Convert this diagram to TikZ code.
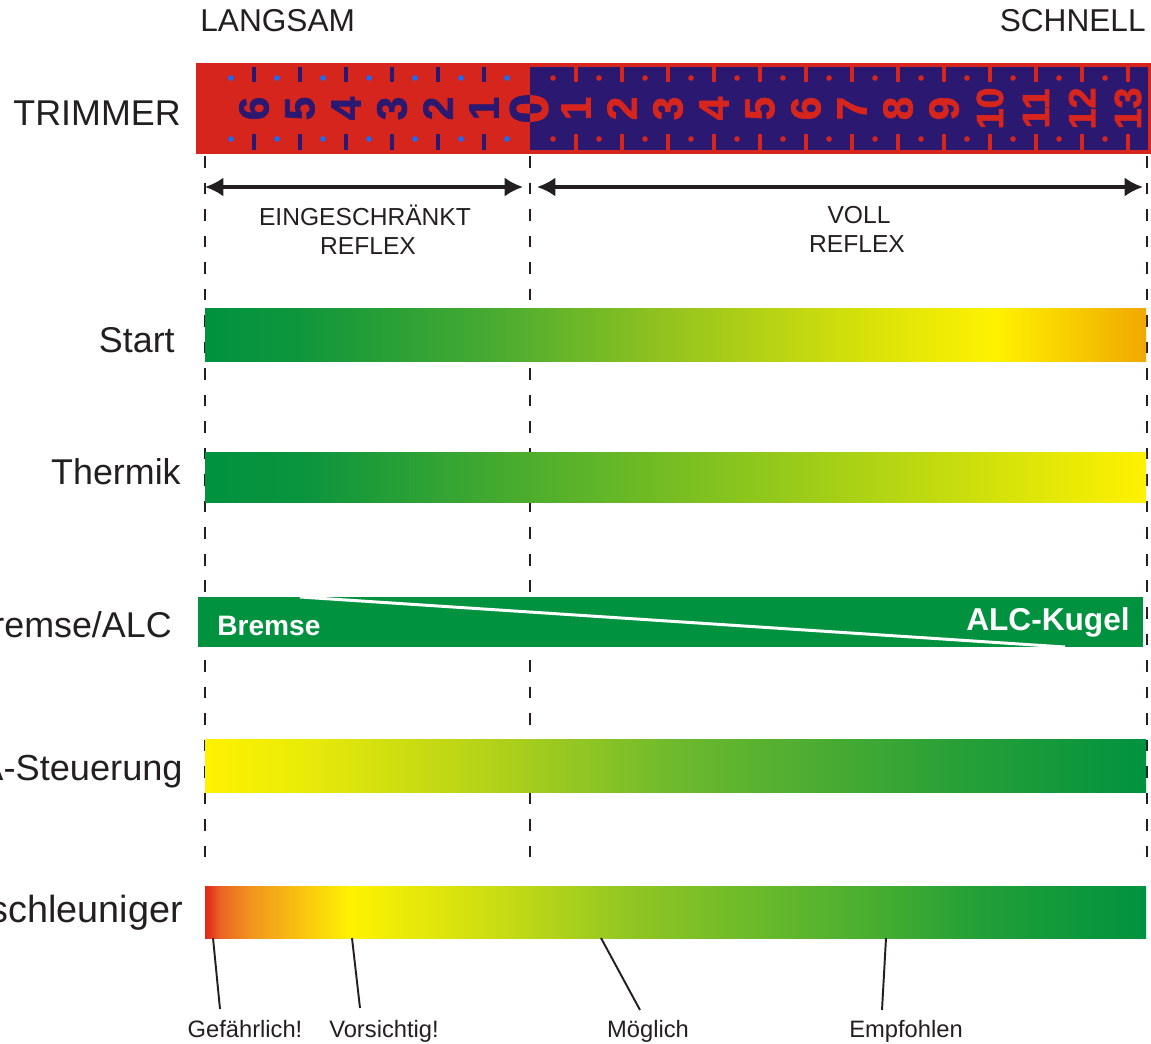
\documentclass[tikz,border=0pt]{standalone}
\usepackage{fontspec}
\setmainfont{Liberation Sans}
\newfontfamily\tapefont{Liberation Sans Bold}[FakeBold=1.6]
\usepackage{xcolor}
\usepackage{tikz}
\usetikzlibrary{arrows.meta}

\definecolor{trimred}{RGB}{214,37,29}
\definecolor{trimblue}{RGB}{43,24,112}
\definecolor{dotblue}{RGB}{20,110,255}
\definecolor{bargreen}{RGB}{0,146,63}
\definecolor{inkgray}{RGB}{35,31,32}

\pgfdeclarehorizontalshading{startshade}{100bp}{rgb(0bp)=(0,0.573,0.247); rgb(25bp)=(0,0.573,0.247); rgb(30bp)=(0.059,0.588,0.235); rgb(40bp)=(0.275,0.667,0.196); rgb(50bp)=(0.588,0.769,0.118); rgb(60bp)=(0.843,0.882,0.039); rgb(67bp)=(1,0.949,0); rgb(75bp)=(0.941,0.659,0); rgb(100bp)=(0.941,0.659,0)}
\pgfdeclarehorizontalshading{thermikshade}{100bp}{rgb(0bp)=(0,0.573,0.247); rgb(25bp)=(0,0.573,0.247); rgb(30bp)=(0.039,0.58,0.243); rgb(75bp)=(1,0.949,0); rgb(100bp)=(1,0.949,0)}
\pgfdeclarehorizontalshading{steuershade}{100bp}{rgb(0bp)=(1,0.949,0); rgb(25bp)=(1,0.949,0); rgb(30bp)=(0.922,0.922,0.031); rgb(40bp)=(0.706,0.824,0.098); rgb(50bp)=(0.431,0.725,0.176); rgb(65bp)=(0.157,0.627,0.216); rgb(75bp)=(0,0.573,0.247); rgb(100bp)=(0,0.573,0.247)}
\pgfdeclarehorizontalshading{beschshade}{100bp}{rgb(0bp)=(0.886,0.137,0.102); rgb(25bp)=(0.886,0.137,0.102); rgb(25.8bp)=(0.91,0.392,0.137); rgb(27.5bp)=(0.949,0.588,0.118); rgb(32.7bp)=(1,0.949,0); rgb(40bp)=(0.804,0.871,0.071); rgb(47.5bp)=(0.569,0.776,0.137); rgb(60bp)=(0.294,0.686,0.188); rgb(66bp)=(0.137,0.627,0.216); rgb(75bp)=(0,0.573,0.247); rgb(100bp)=(0,0.573,0.247)}

\begin{document}
\begin{tikzpicture}[x=0.02cm, y=-0.02cm, >={Latex[length=10.5pt, width=11pt]},
    every node/.style={inner sep=0pt, text=inkgray},
    rowlbl/.style={anchor=base east, font=\fontsize{20.4}{24}\selectfont},
    toplbl/.style={font=\fontsize{18}{22}\selectfont},
    midlbl/.style={anchor=base, font=\fontsize{14}{17}\selectfont},
    botlbl/.style={anchor=base, font=\fontsize{13.5}{16}\selectfont},
    num/.style={rotate=90, font=\fontsize{24}{28}\tapefont},
    numsmall/.style={rotate=90, font=\fontsize{21.5}{26}\tapefont},
    numzero/.style={rotate=90, font=\fontsize{31}{36}\tapefont},
    guide/.style={draw=inkgray, dash pattern=on 6.6pt off 8.5pt, line width=1.2pt},
    tick/.style={line width=1.8pt},
    pointer/.style={draw=inkgray, line width=1.1pt}]
    \path[use as bounding box, clip] (0,0) rectangle (1151,1043);

    % Top labels
    \node[toplbl, anchor=base west] (slow) at (200,32) {LANGSAM};
    \node[toplbl, anchor=base east] (fast) at (1146,32) {SCHNELL};

    % Trimmer tape
    \node[rowlbl] (trim) at (181,126) {TRIMMER};
    \fill[trimred] (196,63) rectangle (1151,154);
    \fill[trimblue] (530,67) rectangle (1148,150);
    \foreach \k in {1,...,6} {
        \draw[tick, trimblue] ({530-46*\k},67) -- +(0,15);
        \draw[tick, trimblue] ({530-46*\k},134) -- +(0,16);
    }
    \foreach \k in {0,...,6} {
        \fill[dotblue] ({507-46*\k},78) circle (2.8);
        \fill[dotblue] ({507-46*\k},139) circle (2.8);
    }
    \foreach \k in {1,...,13} {
        \draw[tick, trimred] ({530+46*\k},67) -- +(0,15);
        \draw[tick, trimred] ({530+46*\k},134) -- +(0,16);
    }
    \foreach \k in {0,...,12} {
        \fill[trimred] ({553+46*\k},78) circle (2.8);
        \fill[trimred] ({553+46*\k},139) circle (2.8);
    }
    \foreach \k in {1,...,6}
        \node[num, text=trimblue] (r\k) at ({530-46*\k},108.5) {\k};
    \foreach \k in {1,...,9}
        \node[num, text=trimred] (b\k) at ({530+46*\k},108.5) {\k};
    \foreach \k in {10,...,13}
        \node[numsmall, text=trimred] (b\k) at ({530+46*\k},108.5) {\k};
    \begin{scope}
        \clip (196,63) rectangle (530,154);
        \node[numzero, text=trimblue] (r0) at (529,108.5) {0};
    \end{scope}
    \begin{scope}
        \clip (530,63) rectangle (1151,154);
        \node[numzero, text=trimred] (b0) at (529,108.5) {0};
    \end{scope}

    % Guide lines
    \draw[guide] (205,156) -- (205,866);
    \draw[guide] (530,156) -- (530,866);
    \draw[guide] (1147,156) -- (1147,866);

    % Reflex ranges
    \coordinate (ea) at (205,187);
    \coordinate (eb) at (523,187);
    \coordinate (va) at (537,187);
    \coordinate (vb) at (1143,187);
    \draw[<->, draw=inkgray, line width=2pt] (ea) -- (eb);
    \draw[<->, draw=inkgray, line width=2pt] (va) -- (vb);
    \node[midlbl] (eing) at (365,226) {EINGESCHRÄNKT};
    \node[midlbl] (refl1) at (368,255) {REFLEX};
    \node[midlbl] (voll) at (859,224) {VOLL};
    \node[midlbl] (refl2) at (857,253) {REFLEX};

    % Start
    \node[rowlbl] (start) at (175,353) {Start};
    \shade[shading=startshade] (205,309) rectangle (1146,361);

    % Thermik
    \node[rowlbl] (therm) at (181,484) {Thermik};
    \shade[shading=thermikshade] (205,452) rectangle (1146,502);

    % Bremse / ALC
    \node[rowlbl] (brems) at (172,637) {Bremse/ALC};
    \fill[bargreen] (198,597) rectangle (1143,647);
    \begin{scope}
        \clip (198,597) rectangle (1143,647);
        \draw[white, line width=1.7pt] (300,597) -- (1065,647);
    \end{scope}
    \node[anchor=base west, text=white, font=\fontsize{16}{19}\selectfont\bfseries] (bremse) at (217,635) {Bremse};
    \node[anchor=base east, text=white, font=\fontsize{18}{21}\selectfont\bfseries] (kugel) at (1130,630) {ALC-Kugel};

    % A-Steuerung
    \node[rowlbl, font=\fontsize{20.6}{25}\selectfont] (steuer) at (183,780) {A-Steuerung};
    \shade[shading=steuershade] (205,739) rectangle (1146,792);

    % Beschleuniger
    \node[rowlbl, font=\fontsize{21.5}{25}\selectfont] (besch) at (183,922) {Beschleuniger};
    \shade[shading=beschshade] (205,886) rectangle (1146,938);

    % Pointers below the bar
    \coordinate (g1) at (213,938);   \coordinate (g2) at (220,1009);
    \coordinate (v1) at (352,938);   \coordinate (v2) at (360,1008);
    \coordinate (m1) at (601,938);   \coordinate (m2) at (640,1010);
    \coordinate (e1) at (886,938);   \coordinate (e2) at (882,1010);
    \draw[pointer] (g1) -- (g2);
    \draw[pointer] (v1) -- (v2);
    \draw[pointer] (m1) -- (m2);
    \draw[pointer] (e1) -- (e2);
    \node[botlbl] (gef) at (245,1037) {Gefährlich!};
    \node[botlbl] (vors) at (384,1037) {Vorsichtig!};
    \node[botlbl] (moeg) at (648,1037) {Möglich};
    \node[botlbl] (empf) at (906,1037) {Empfohlen};
\end{tikzpicture}
\end{document}
